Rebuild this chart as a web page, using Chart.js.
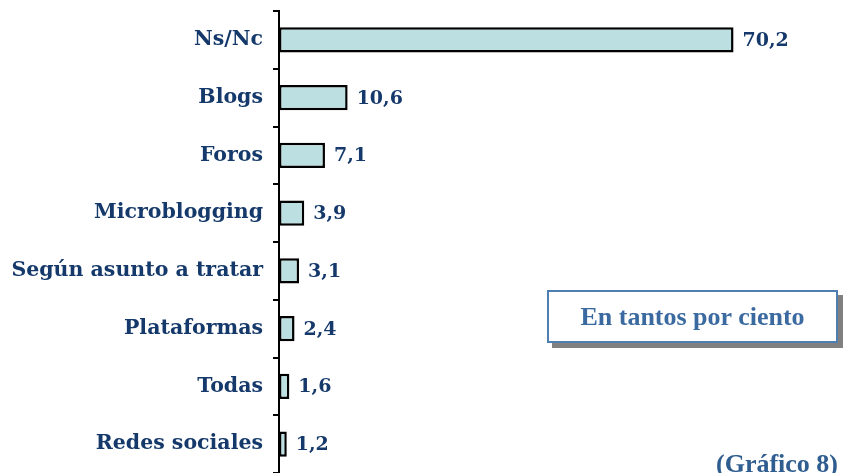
<!DOCTYPE html>
<html>
<head>
<meta charset="utf-8">
<script src="https://cdn.jsdelivr.net/npm/chart.js@4.4.1/dist/chart.umd.min.js"></script>
<style>
  html, body { margin: 0; padding: 0; background: #fff; overflow: hidden; }
  #wrap { position: relative; width: 843px; height: 473px; overflow: hidden; }
  #note {
    position: absolute; left: 547px; top: 290px; width: 287px; height: 49px;
    border: 2px solid #4f7eb3; background: #fff;
    box-shadow: 5px 5px 0 #808080;
    font: bold 26px "Liberation Serif", serif; color: #3b6aa0;
    display: flex; align-items: center; justify-content: center;
  }
  #fig {
    position: absolute; left: 716px; top: 449px; line-height: 26px;
    font: bold 26px "Liberation Serif", serif; color: #2f5d8f; white-space: nowrap;
  }
</style>
</head>
<body>
<div id="wrap">
  <canvas id="grafico" width="843" height="473"></canvas>
  <div id="note">En tantos por ciento</div>
  <div id="fig">(Gráfico 8)</div>
</div>
<script>
var categorias = ["Ns/Nc", "Blogs", "Foros", "Microblogging", "Según asunto a tratar", "Plataformas", "Todas", "Redes sociales"];
var valores = [70.2, 10.6, 7.1, 3.9, 3.1, 2.4, 1.6, 1.2];

var azulTexto = "#15396a";
var fuente = "'DejaVu Serif', serif";

// etiquetas con el valor al final de cada barra
var etiquetas = {
  id: "etiquetas",
  afterDatasetsDraw: function (chart) {
    var ctx = chart.ctx;
    var meta = chart.getDatasetMeta(0);
    ctx.save();
    ctx.fillStyle = azulTexto;
    ctx.font = "bold 19px " + fuente;
    ctx.textAlign = "left";
    ctx.textBaseline = "middle";
    meta.data.forEach(function (bar, i) {
      var txt = valores[i].toFixed(1).replace(".", ",");
      ctx.fillText(txt, bar.x + 9, bar.y + 1);
    });
    ctx.restore();
  }
};

new Chart("grafico", {
  type: "bar",
  data: {
    labels: categorias,
    datasets: [{
      data: valores,
      backgroundColor: "#bce0e2",
      borderColor: "#000",
      borderWidth: 2.5,
      borderSkipped: false,
      categoryPercentage: 1,
      barPercentage: 0.44
    }]
  },
  options: {
    indexAxis: "y",
    responsive: false,
    animation: false,
    layout: { padding: { top: 11, right: 46, bottom: 0, left: 0 } },
    plugins: {
      legend: { display: false },
      tooltip: { enabled: false }
    },
    scales: {
      x: { display: false, min: 0, max: 80 },
      y: {
        afterFit: function (scale) {
          scale.width = 279;
          scale.paddingTop = 0;
          scale.paddingBottom = 0;
        },
        border: { display: true, color: "#000", width: 2 },
        grid: { drawOnChartArea: false, color: "#000", tickLength: 6, lineWidth: 2, offset: true },
        ticks: { color: azulTexto, font: { family: fuente, weight: "bold", size: 20.5 }, padding: 10 }
      }
    }
  },
  plugins: [etiquetas]
});
</script>
</body>
</html>
